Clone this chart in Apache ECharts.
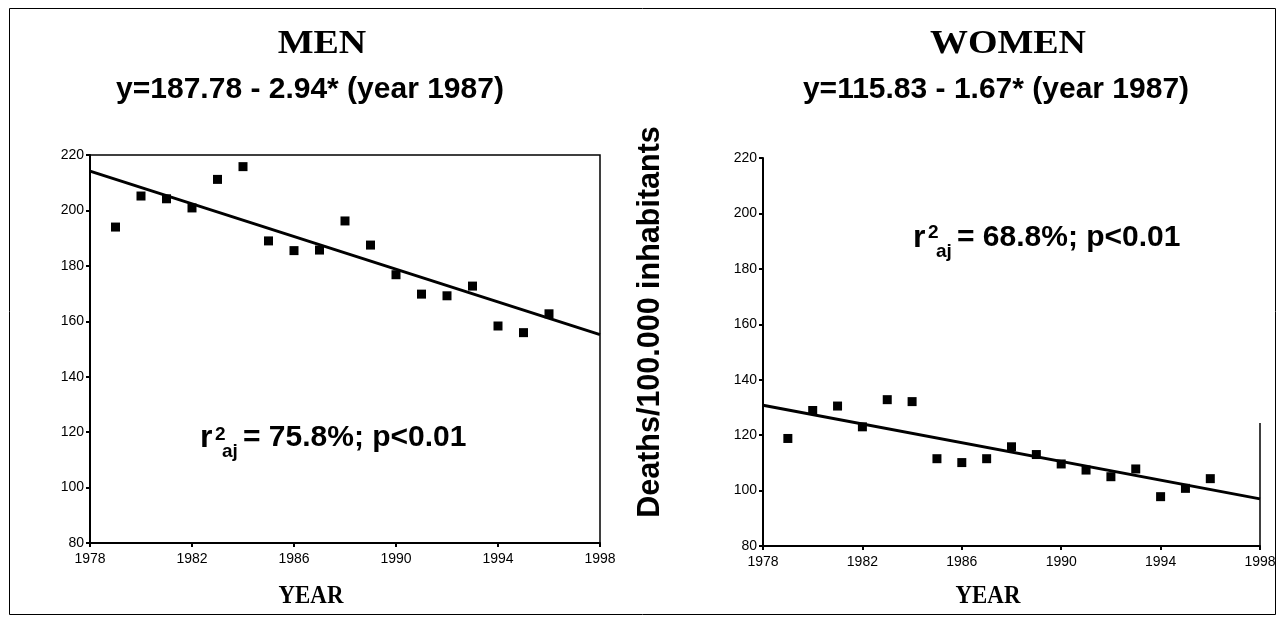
<!DOCTYPE html>
<html>
<head>
<meta charset="utf-8">
<script src="https://cdn.jsdelivr.net/npm/echarts@6/dist/echarts.min.js"></script>
<style>html,body{margin:0;padding:0;background:#fff;}#c{width:1285px;height:624px;}</style>
</head>
<body>
<div id="c"></div>
<script>
// ---- data ----
const years = [1979,1980,1981,1982,1983,1984,1985,1986,1987,1988,1989,1990,1991,1992,1993,1994,1995,1996];
const menRates = [194,205.2,204.2,200.9,211.2,215.8,189,185.5,185.7,196.2,187.5,176.8,169.8,169.2,172.7,158.3,155.9,162.7];
const womenRates = [118.8,128.9,130.5,123.0,132.8,132.1,111.5,110.1,111.5,115.8,113.0,109.6,107.4,105.0,107.8,97.8,100.8,104.3];
const fitYears = [1978, 1998];
const menFit = [214.2, 155.2];
const womenFit = [130.8, 97.0];
const xTicks = [1978, 1982, 1986, 1990, 1994, 1998];
const yTicks = [80, 100, 120, 140, 160, 180, 200, 220];

const pairs = (xs, ys) => xs.map((x, i) => [x, ys[i]]);

const SANS = 'Liberation Sans, Arial, sans-serif';
const SERIF = 'Liberation Serif, Times New Roman, serif';

function xAxisFor(gi) {
  return {
    gridIndex: gi, type: 'value',
    min: xTicks[0], max: xTicks[xTicks.length - 1], interval: xTicks[1] - xTicks[0],
    axisLine: { show: true, lineStyle: { color: '#000', width: 2 } },
    axisTick: { show: true, inside: false, length: 4, lineStyle: { color: '#000', width: 2 } },
    axisLabel: { color: '#000', fontSize: 14, fontFamily: SANS, margin: 9, formatter: v => String(v) },
    splitLine: { show: false }
  };
}
function yAxisFor(gi) {
  return {
    gridIndex: gi, type: 'value',
    min: yTicks[0], max: yTicks[yTicks.length - 1], interval: yTicks[1] - yTicks[0],
    axisLine: { show: true, lineStyle: { color: '#000', width: 2 } },
    axisTick: { show: true, inside: false, length: 4, lineStyle: { color: '#000', width: 2 } },
    axisLabel: { color: '#000', fontSize: 14, fontFamily: SANS, margin: 6, formatter: v => String(v) },
    splitLine: { show: false }
  };
}

function txt(text, x, y, size, opts) {
  opts = opts || {};
  return {
    type: 'text', x: x, y: y, rotation: opts.rotation || 0,
    scaleX: opts.scaleX || 1, scaleY: opts.scaleY || 1,
    style: {
      text: text, fill: '#000', fontSize: size, fontWeight: 'bold',
      fontFamily: opts.family || SANS, align: opts.align || 'left', verticalAlign: 'middle'
    }
  };
}

const chart = echarts.init(document.getElementById('c'), null, { renderer: 'canvas' });
chart.setOption({
  backgroundColor: '#fff',
  animation: false,
  grid: [
    { left: 90, top: 155, width: 510, height: 388, show: true, borderColor: '#000', borderWidth: 1.5 },
    { left: 763, top: 158, width: 497, height: 388 }
  ],
  xAxis: [xAxisFor(0), xAxisFor(1)],
  yAxis: [yAxisFor(0), yAxisFor(1)],
  series: [
    { type: 'scatter', xAxisIndex: 0, yAxisIndex: 0, symbol: 'rect', symbolSize: 9,
      itemStyle: { color: '#000', opacity: 1 }, data: pairs(years, menRates) },
    { type: 'line', xAxisIndex: 0, yAxisIndex: 0, showSymbol: false, symbol: 'none',
      lineStyle: { color: '#000', width: 3 }, data: pairs(fitYears, menFit) },
    { type: 'scatter', xAxisIndex: 1, yAxisIndex: 1, symbol: 'rect', symbolSize: 9,
      itemStyle: { color: '#000', opacity: 1 }, data: pairs(years, womenRates) },
    { type: 'line', xAxisIndex: 1, yAxisIndex: 1, showSymbol: false, symbol: 'none',
      lineStyle: { color: '#000', width: 3 }, data: pairs(fitYears, womenFit) }
  ],
  graphic: [
    { type: 'rect', shape: { x: 9.5, y: 8.5, width: 1266, height: 606 },
      style: { fill: 'none', stroke: '#000', lineWidth: 1 } },
    { type: 'line', shape: { x1: 1260, y1: 423, x2: 1260, y2: 546 },
      style: { stroke: '#000', lineWidth: 1.5 } },
    txt('MEN', 322, 44, 33, { family: SERIF, align: 'center', scaleX: 1.15 }),
    txt('WOMEN', 1008, 44, 33, { family: SERIF, align: 'center', scaleX: 1.15 }),
    txt('y=187.78 - 2.94* (year 1987)', 310, 90, 30, { align: 'center' }),
    txt('y=115.83 - 1.67* (year 1987)', 996, 90, 30, { align: 'center' }),
    txt('Deaths/100.000 inhabitants', 651, 322, 30.5, { align: 'center', rotation: Math.PI / 2 }),
    txt('YEAR', 311, 596, 26, { family: SERIF, align: 'center', scaleX: 0.88 }),
    txt('YEAR', 988, 596, 26, { family: SERIF, align: 'center', scaleX: 0.88 }),
    // men r2 annotation
    txt('r', 200, 438, 32),
    txt('2', 215, 435, 19),
    txt('aj', 222, 452, 19),
    txt('= 75.8%; p<0.01', 243, 438, 30),
    // women r2 annotation
    txt('r', 913, 238, 32),
    txt('2', 928, 233, 19),
    txt('aj', 936, 252, 19),
    txt('= 68.8%; p<0.01', 957, 238, 30)
  ]
});
</script>
</body>
</html>
